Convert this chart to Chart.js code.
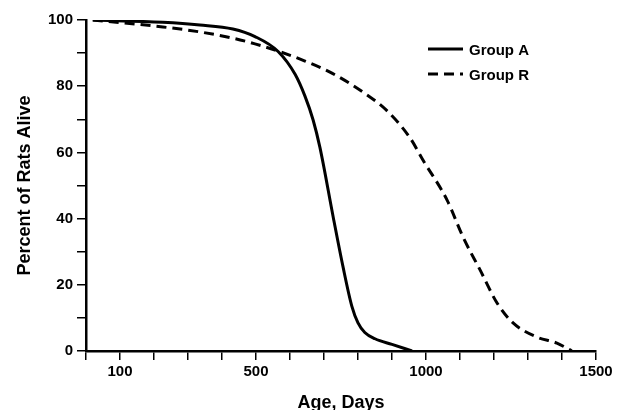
<!DOCTYPE html>
<html>
<head>
<meta charset="utf-8">
<script src="https://cdn.jsdelivr.net/npm/chart.js@4/dist/chart.umd.min.js"></script>
<style>
  html, body { margin: 0; padding: 0; background: #fff; }
  #wrap { width: 624px; height: 410px; }
</style>
</head>
<body>
<div id="wrap"><canvas id="chart" width="624" height="410"></canvas></div>
<script>
// age in days / percent alive
const ageA = [20, 226, 335, 432, 497, 565, 615, 644, 668, 688, 727, 756, 782, 800, 820, 850, 900, 959];
const pctA = [100, 99.3, 98.5, 97.3, 95.0, 90.5, 83.6, 77, 69.8, 61.5, 40.5, 25.4, 13.5, 8.5, 5.6, 3.7, 2.0, 0];

const ageR = [20, 226, 335, 432, 497, 565, 644, 726, 815, 885, 953, 991, 1062, 1109, 1159, 1209, 1256, 1326, 1385, 1429];
const pctR = [100, 97.9, 96.4, 94.5, 92.8, 90.6, 87.6, 83.8, 78.2, 72.6, 64.4, 57.7, 45.6, 34.4, 24.5, 14.5, 8.5, 4.2, 2.4, 0];

const seriesNames = ["Group A", "Group R"];
const xLabels = [100, 500, 1000, 1500];
const yLabels = [0, 20, 40, 60, 80, 100];

const FONT = "'Liberation Sans', Arial, sans-serif";

function toPoints(xs, ys) {
    return xs.map((x, i) => ({x: x, y: ys[i]}));
}

// simple legend drawn in the upper right of the plot
const legendPlugin = {
    id: 'cornerLegend',
    afterDraw(chart) {
        const ctx = chart.ctx;
        ctx.save();
        chart.data.datasets.forEach((ds, i) => {
            const y = 49 + i * 25;
            ctx.strokeStyle = '#000';
            ctx.lineWidth = ds.borderWidth;
            ctx.setLineDash(ds.borderDash || []);
            ctx.beginPath();
            ctx.moveTo(428, y);
            ctx.lineTo(463, y);
            ctx.stroke();
            ctx.setLineDash([]);
            ctx.fillStyle = '#000';
            ctx.font = "bold 15px " + FONT;
            ctx.textBaseline = 'middle';
            ctx.fillText(ds.label, 469, y + 2);
        });
        ctx.restore();
    }
};

const axisGrid = {
    drawOnChartArea: false,
    drawTicks: true,
    tickLength: 9,
    color: '#000',
    lineWidth: 1.5
};

new Chart(document.getElementById('chart'), {
    type: 'line',
    data: {
        datasets: [
            {
                label: seriesNames[0],
                data: toPoints(ageA, pctA),
                borderColor: '#000',
                borderWidth: 3,
                pointRadius: 0,
                fill: false,
                cubicInterpolationMode: 'monotone'
            },
            {
                label: seriesNames[1],
                data: toPoints(ageR, pctR),
                borderColor: '#000',
                borderWidth: 3,
                borderDash: [10, 6],
                pointRadius: 0,
                fill: false,
                cubicInterpolationMode: 'monotone'
            }
        ]
    },
    options: {
        responsive: false,
        animation: false,
        layout: { padding: { top: 20, right: 28, left: 0, bottom: 0 } },
        plugins: {
            legend: { display: false },
            tooltip: { enabled: false }
        },
        scales: {
            x: {
                type: 'linear',
                min: 0,
                max: 1500,
                grid: axisGrid,
                border: { display: true, color: '#000', width: 2.5 },
                ticks: {
                    stepSize: 100,
                    autoSkip: false,
                    maxRotation: 0,
                    padding: 3,
                    color: '#000',
                    font: { family: FONT, size: 15, weight: 'bold' },
                    callback: v => xLabels.includes(v) ? v : ''
                },
                title: {
                    display: true,
                    text: 'Age, Days',
                    color: '#000',
                    font: { family: FONT, size: 18, weight: 'bold', lineHeight: 1 },
                    padding: { top: 0, bottom: -2 }
                },
                afterFit(scale) { scale.height = 59; }
            },
            y: {
                min: 0,
                max: 100,
                grid: axisGrid,
                border: { display: true, color: '#000', width: 2.5 },
                ticks: {
                    stepSize: 10,
                    autoSkip: false,
                    padding: 4,
                    color: '#000',
                    font: { family: FONT, size: 15, weight: 'bold' },
                    callback: v => yLabels.includes(v) ? v : ''
                },
                title: {
                    display: true,
                    text: 'Percent of Rats Alive',
                    color: '#000',
                    font: { family: FONT, size: 18, weight: 'bold', lineHeight: 1 },
                    padding: { top: 16, bottom: 0 }
                },
                afterFit(scale) { scale.width = 86; }
            }
        }
    },
    plugins: [legendPlugin]
});
</script>
</body>
</html>
